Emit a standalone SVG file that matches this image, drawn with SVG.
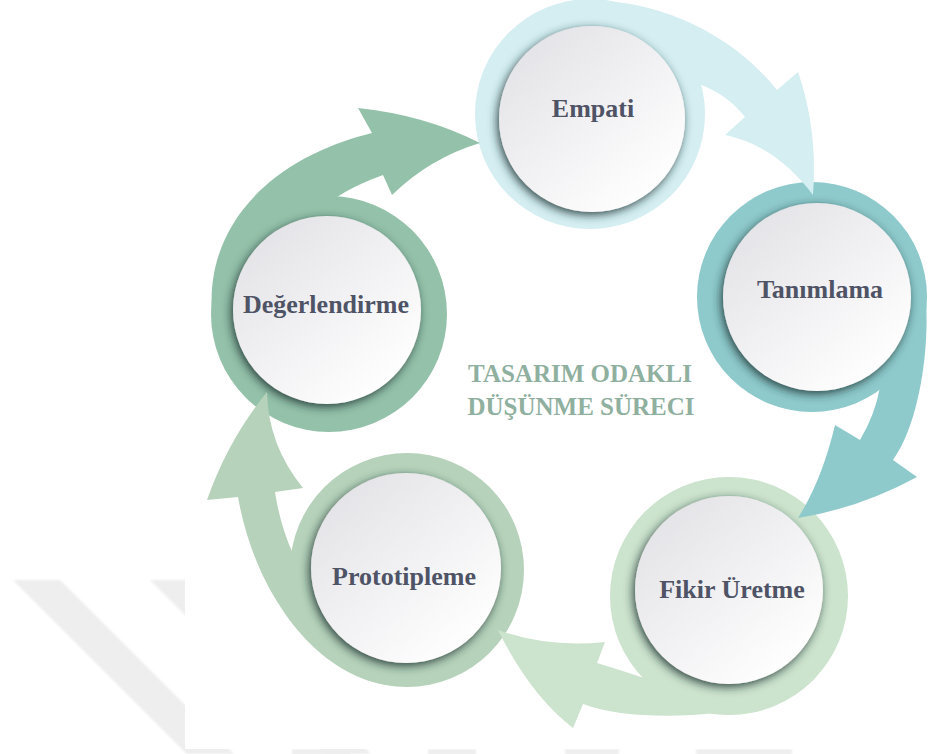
<svg xmlns="http://www.w3.org/2000/svg" width="932" height="754" viewBox="0 0 932 754">
  <style>
    .label { font-family: "Liberation Serif", "Times New Roman", serif; font-weight: bold; font-size: 26px; fill: #4F5366; text-anchor: middle; }
    .title { font-family: "Liberation Serif", "Times New Roman", serif; font-weight: bold; font-size: 25px; fill: #8FAF9F; text-anchor: middle; }
    .face { fill: url(#faceGrad); filter: url(#rimShadow); }
    .mark { fill: #EEEEEE; filter: url(#soft); }
  </style>
  <defs>
    <linearGradient id="faceGrad" x1="0.15" y1="0.1" x2="0.85" y2="0.9">
      <stop offset="0" stop-color="#E4E4E8"/>
      <stop offset="1" stop-color="#FFFFFF"/>
    </linearGradient>
    <!-- dark rim cast by the inner disc onto its ring -->
    <filter id="rimShadow" x="-25%" y="-25%" width="150%" height="150%">
      <feGaussianBlur in="SourceAlpha" stdDeviation="5"/>
      <feOffset dx="-2" dy="3" result="b"/>
      <feFlood flood-color="#1A3030" flood-opacity="0.85"/>
      <feComposite in2="b" operator="in" result="s"/>
      <feMerge>
        <feMergeNode in="s"/>
        <feMergeNode in="SourceGraphic"/>
      </feMerge>
    </filter>
    <filter id="soft" x="-10%" y="-10%" width="120%" height="120%">
      <feGaussianBlur stdDeviation="1.2"/>
    </filter>
  </defs>

  <!-- background marks -->
  <g id="backdrop">
    <rect x="0" y="0" width="932" height="754" fill="#FFFFFF"/>
    <polygon class="mark" points="13,580 60,580 234,754 187,754"/>
    <polygon class="mark" points="150,580 197,580 371,754 324,754"/>
    <rect class="mark" x="292" y="749" width="59" height="6"/>
    <rect class="mark" x="428" y="749" width="48" height="6"/>
    <rect class="mark" x="565" y="749" width="54" height="6"/>
    <rect class="mark" x="696" y="749" width="96" height="6"/>
    <rect x="185" y="0" width="747" height="749" fill="#FFFFFF"/>
  </g>

  <!-- stages -->
  <g id="node-empati">
    <circle cx="590" cy="114" r="115" fill="#D4EEF2"/>
    <circle class="face" cx="592" cy="119" r="93"/>
    <text class="label" x="593" y="117">Empati</text>
  </g>
  <g id="node-tanimlama">
    <circle cx="812" cy="297" r="115" fill="#8EC9CB"/>
    <circle class="face" cx="817" cy="297" r="94"/>
    <text class="label" x="820" y="298">Tanımlama</text>
  </g>
  <g id="node-fikir">
    <circle cx="729" cy="596" r="119" fill="#CCE3CD"/>
    <circle class="face" cx="729" cy="590" r="94"/>
    <text class="label" x="732" y="598">Fikir Üretme</text>
  </g>
  <g id="node-prototipleme">
    <circle cx="407" cy="570" r="117" fill="#B6D2BA"/>
    <circle class="face" cx="406" cy="568" r="95"/>
    <text class="label" x="404" y="585">Prototipleme</text>
  </g>
  <g id="node-degerlendirme">
    <circle cx="329" cy="314" r="118" fill="#94C1A9"/>
    <circle class="face" cx="327" cy="310" r="94"/>
    <text class="label" x="326" y="313">Değerlendirme</text>
  </g>

  <!-- curved arrows between stages -->
  <g id="connectors">
    <path fill="#D4EEF2" d="M 570.2 1.7 C 640 -6 725 25 777 90 L 798 72 Q 818 130 813 195 Q 775 145 725 135 L 745 117 Q 728 95 700.1 84.5 A 113 113 0 0 0 570.2 1.7 Z"/>
    <path fill="#8EC9CB" d="M 923.3 277.4 C 932.6 331 922 420 893 460 L 917 477 Q 860 508 798 518 Q 822 480 835 425 L 860 440 Q 875 415 880 387.3 A 113 113 0 0 0 923.3 277.4 Z"/>
    <path fill="#CCE3CD" d="M 805.8 684.3 C 772 716 640 726 583 704 L 573 728 Q 530 695 498 630 Q 548 648 605 642 L 597 663 Q 620 670 646.3 678.7 A 117 117 0 0 0 805.8 684.3 Z"/>
    <path fill="#B6D2BA" d="M 411 685 C 335 694 258 610 238 497 L 207 500 Q 228 440 267 392 Q 268 445 303 488 L 275 492 Q 280 525 293.1 554 A 115 115 0 0 0 411 685 Z"/>
    <path fill="#94C1A9" d="M 213.4 324.1 C 200 235 262 160 372 133 L 358 108 Q 425 115 480 143 Q 430 158 392 195 L 383 175 Q 355 185 335 198.2 A 116 116 0 0 0 213.4 324.1 Z"/>
  </g>

  <g id="title">
    <text class="title" x="580" y="382">TASARIM ODAKLI</text>
    <text class="title" x="581" y="415">DÜŞÜNME SÜRECI</text>
  </g>
</svg>
